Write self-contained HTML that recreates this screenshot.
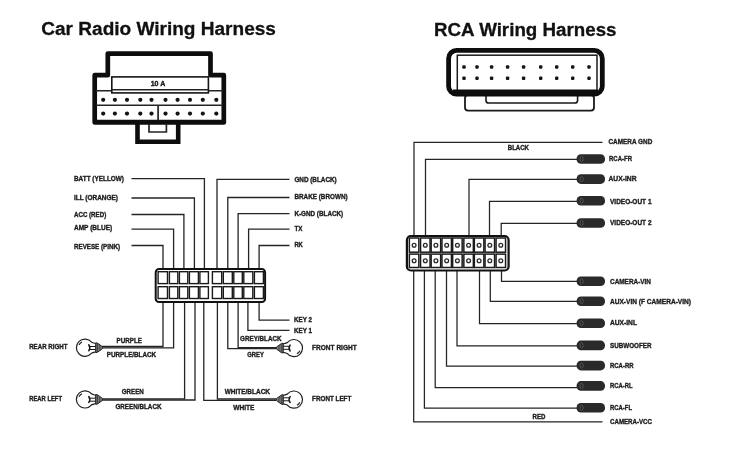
<!DOCTYPE html>
<html lang="en">
<head>
<meta charset="utf-8">
<title>Car Radio Wiring Harness / RCA Wiring Harness</title>
<style>
html,body{margin:0;padding:0;background:#fff;}
body{width:730px;height:450px;overflow:hidden;}
svg{display:block;filter:grayscale(1);}
text{font-family:"Liberation Sans",sans-serif;font-weight:700;fill:#1c1c1c;stroke:#1c1c1c;stroke-width:0.4px;stroke-linejoin:round;}
text.h{fill:#111;stroke:#111;stroke-width:0.3px;}
</style>
</head>
<body>
<svg width="730" height="450" viewBox="0 0 730 450">
<rect x="0" y="0" width="730" height="450" fill="#ffffff"/>

<text class="h" x="41.3" y="35.4" font-size="18.7" textLength="234.6" lengthAdjust="spacingAndGlyphs">Car Radio Wiring Harness</text>
<text class="h" x="434" y="35.7" font-size="18.7" textLength="182.5" lengthAdjust="spacingAndGlyphs">RCA Wiring Harness</text>
<g id="car-connector">
<path d="M137.5 122 V141.8 H178.2 V122" fill="#fff" stroke="#0d0d0d" stroke-width="4.6" stroke-linejoin="miter"/>
<path d="M107.8 75.2 V53.6 H210.5 V75.2 H223.8 V122.5 H94.7 V75.2 Z" fill="#fff" stroke="#0d0d0d" stroke-width="4.7" stroke-linejoin="round"/>
<path d="M94.7 121.4 H223.8" fill="none" stroke="#0d0d0d" stroke-width="3.4"/>
<path d="M96 90.7 H112 M208 90.7 H223" fill="none" stroke="#242424" stroke-width="1.4"/>
<path d="M96 105.2 H223" fill="none" stroke="#242424" stroke-width="1.4"/>
<path d="M158.1 105.2 V120.5" fill="none" stroke="#242424" stroke-width="1.7"/>
<rect x="111.8" y="76.9" width="96.6" height="16" fill="#fff" stroke="#151515" stroke-width="1.6"/>
<path d="M111.8 89.8 H208.4" fill="none" stroke="#242424" stroke-width="1.5"/>
<path d="M149 124 V132 H166.4 V124" fill="none" stroke="#242424" stroke-width="1.7"/>
<text class="l" x="150.7" y="86.1" font-size="7.6" textLength="14.6" lengthAdjust="spacingAndGlyphs">10 A</text>
<circle cx="103.2" cy="99.8" r="2.1" fill="#151515"/>
<circle cx="114.9" cy="99.8" r="2.1" fill="#151515"/>
<circle cx="127" cy="99.8" r="2.1" fill="#151515"/>
<circle cx="140.3" cy="99.8" r="2.1" fill="#151515"/>
<circle cx="151.5" cy="99.8" r="2.1" fill="#151515"/>
<circle cx="165.5" cy="99.8" r="2.1" fill="#151515"/>
<circle cx="177.6" cy="99.8" r="2.1" fill="#151515"/>
<circle cx="190" cy="99.8" r="2.1" fill="#151515"/>
<circle cx="202.8" cy="99.8" r="2.1" fill="#151515"/>
<circle cx="216.3" cy="99.8" r="2.1" fill="#151515"/>
<circle cx="103.2" cy="113.6" r="2.1" fill="#151515"/>
<circle cx="114.9" cy="113.6" r="2.1" fill="#151515"/>
<circle cx="127" cy="113.6" r="2.1" fill="#151515"/>
<circle cx="140.3" cy="113.6" r="2.1" fill="#151515"/>
<circle cx="151.5" cy="113.6" r="2.1" fill="#151515"/>
<circle cx="165.5" cy="113.6" r="2.1" fill="#151515"/>
<circle cx="177.6" cy="113.6" r="2.1" fill="#151515"/>
<circle cx="190" cy="113.6" r="2.1" fill="#151515"/>
<circle cx="202.8" cy="113.6" r="2.1" fill="#151515"/>
<circle cx="216.3" cy="113.6" r="2.1" fill="#151515"/>
</g>
<g id="car-wiring">
<path d="M131.5 245.5 H163.0 V270" fill="none" stroke="#242424" stroke-width="1.3"/>
<path d="M131.5 229.2 H173.6 V270" fill="none" stroke="#242424" stroke-width="1.3"/>
<path d="M131.5 214.5 H183.9 V270" fill="none" stroke="#242424" stroke-width="1.3"/>
<path d="M131.5 198.0 H194.4 V270" fill="none" stroke="#242424" stroke-width="1.3"/>
<path d="M131.5 178.6 H204.4 V270" fill="none" stroke="#242424" stroke-width="1.3"/>
<path d="M289.5 179.3 H217.0 V270" fill="none" stroke="#242424" stroke-width="1.3"/>
<path d="M289.5 197.5 H227.8 V270" fill="none" stroke="#242424" stroke-width="1.3"/>
<path d="M289.5 213.7 H238.1 V270" fill="none" stroke="#242424" stroke-width="1.3"/>
<path d="M289.5 229.2 H248.6 V270" fill="none" stroke="#242424" stroke-width="1.3"/>
<path d="M289.5 245.5 H259.1 V270" fill="none" stroke="#242424" stroke-width="1.3"/>
<path d="M102 346.5 H163.0 V301" fill="none" stroke="#242424" stroke-width="1.3"/>
<path d="M102 347.8 H173.6 V301" fill="none" stroke="#242424" stroke-width="1.3"/>
<path d="M102 398.9 H184.6 V301" fill="none" stroke="#242424" stroke-width="1.3"/>
<path d="M102 400.0 H195.0 V301" fill="none" stroke="#242424" stroke-width="1.3"/>
<path d="M203.8 301 V400.3 H276" fill="none" stroke="#242424" stroke-width="1.3"/>
<path d="M217.4 301 V399.0 H276" fill="none" stroke="#242424" stroke-width="1.3"/>
<path d="M227.8 301 V348.7 H276" fill="none" stroke="#242424" stroke-width="1.3"/>
<path d="M238.1 301 V347.6 H276" fill="none" stroke="#242424" stroke-width="1.3"/>
<path d="M247.9 301 V330.4 H289.5" fill="none" stroke="#242424" stroke-width="1.3"/>
<path d="M259.1 301 V320.2 H289.5" fill="none" stroke="#242424" stroke-width="1.3"/>
<rect x="155.7" y="269" width="109.4" height="33.1" rx="3.4" fill="#fff" stroke="#111" stroke-width="2"/>
<rect x="158.10" y="271.7" width="9.40" height="11.9" fill="#fff" stroke="#1a1a1a" stroke-width="1.4"/>
<rect x="158.10" y="286.7" width="9.40" height="11.8" fill="#fff" stroke="#1a1a1a" stroke-width="1.4"/>
<rect x="169.40" y="271.7" width="8.40" height="11.9" fill="#fff" stroke="#1a1a1a" stroke-width="1.4"/>
<rect x="169.40" y="286.7" width="8.40" height="11.8" fill="#fff" stroke="#1a1a1a" stroke-width="1.4"/>
<rect x="179.40" y="271.7" width="8.40" height="11.9" fill="#fff" stroke="#1a1a1a" stroke-width="1.4"/>
<rect x="179.40" y="286.7" width="8.40" height="11.8" fill="#fff" stroke="#1a1a1a" stroke-width="1.4"/>
<rect x="189.40" y="271.7" width="9.00" height="11.9" fill="#fff" stroke="#1a1a1a" stroke-width="1.4"/>
<rect x="189.40" y="286.7" width="9.00" height="11.8" fill="#fff" stroke="#1a1a1a" stroke-width="1.4"/>
<rect x="199.90" y="271.7" width="8.50" height="11.9" fill="#fff" stroke="#1a1a1a" stroke-width="1.4"/>
<rect x="199.90" y="286.7" width="8.50" height="11.8" fill="#fff" stroke="#1a1a1a" stroke-width="1.4"/>
<rect x="212.40" y="271.7" width="9.30" height="11.9" fill="#fff" stroke="#1a1a1a" stroke-width="1.4"/>
<rect x="212.40" y="286.7" width="9.30" height="11.8" fill="#fff" stroke="#1a1a1a" stroke-width="1.4"/>
<rect x="223.30" y="271.7" width="9.00" height="11.9" fill="#fff" stroke="#1a1a1a" stroke-width="1.4"/>
<rect x="223.30" y="286.7" width="9.00" height="11.8" fill="#fff" stroke="#1a1a1a" stroke-width="1.4"/>
<rect x="233.80" y="271.7" width="8.50" height="11.9" fill="#fff" stroke="#1a1a1a" stroke-width="1.4"/>
<rect x="233.80" y="286.7" width="8.50" height="11.8" fill="#fff" stroke="#1a1a1a" stroke-width="1.4"/>
<rect x="243.80" y="271.7" width="9.00" height="11.9" fill="#fff" stroke="#1a1a1a" stroke-width="1.4"/>
<rect x="243.80" y="286.7" width="9.00" height="11.8" fill="#fff" stroke="#1a1a1a" stroke-width="1.4"/>
<rect x="254.40" y="271.7" width="9.00" height="11.9" fill="#fff" stroke="#1a1a1a" stroke-width="1.4"/>
<rect x="254.40" y="286.7" width="9.00" height="11.8" fill="#fff" stroke="#1a1a1a" stroke-width="1.4"/>
</g>
<g transform="translate(85 347.7) rotate(0)">
<path d="M10.9 -4.2 C9.4 -4.2 8.2 -5 6.6 -5.5 A8.6 8.6 0 1 0 6.6 5.5 C8.2 5 9.4 4.2 10.9 4.2 Z" fill="#fff" stroke="#1e1e1e" stroke-width="1.2" stroke-linejoin="round"/>
<path d="M11 -1.2 H4.6 M11 1.8 H4.6" fill="none" stroke="#1a1a1a" stroke-width="1"/>
<path d="M3.8 -2.9 C5 -1.2 5 1.3 3.8 3" fill="none" stroke="#111" stroke-width="1.5" stroke-linecap="round"/>
<path d="M10.9 -4.9 L12.6 -4.5 L17.4 -1 V1 L12.6 4.5 L10.9 4.9 Z" fill="#8a8a8a" stroke="#222" stroke-width="1" stroke-linejoin="round"/>
<path d="M12.7 -4.2 V4.2 M14.9 -2.6 V2.6" fill="none" stroke="#222" stroke-width="0.8"/>
<path d="M-6 -2.6 A6.4 6.4 0 0 1 -3 -5.6" fill="none" stroke="#222" stroke-width="1.1"/>
</g>
<g transform="translate(85 399.4) rotate(0)">
<path d="M10.9 -4.2 C9.4 -4.2 8.2 -5 6.6 -5.5 A8.6 8.6 0 1 0 6.6 5.5 C8.2 5 9.4 4.2 10.9 4.2 Z" fill="#fff" stroke="#1e1e1e" stroke-width="1.2" stroke-linejoin="round"/>
<path d="M11 -1.2 H4.6 M11 1.8 H4.6" fill="none" stroke="#1a1a1a" stroke-width="1"/>
<path d="M3.8 -2.9 C5 -1.2 5 1.3 3.8 3" fill="none" stroke="#111" stroke-width="1.5" stroke-linecap="round"/>
<path d="M10.9 -4.9 L12.6 -4.5 L17.4 -1 V1 L12.6 4.5 L10.9 4.9 Z" fill="#8a8a8a" stroke="#222" stroke-width="1" stroke-linejoin="round"/>
<path d="M12.7 -4.2 V4.2 M14.9 -2.6 V2.6" fill="none" stroke="#222" stroke-width="0.8"/>
<path d="M-6 -2.6 A6.4 6.4 0 0 1 -3 -5.6" fill="none" stroke="#222" stroke-width="1.1"/>
</g>
<g transform="translate(293.9 348.1) rotate(180)">
<path d="M10.9 -4.2 C9.4 -4.2 8.2 -5 6.6 -5.5 A8.6 8.6 0 1 0 6.6 5.5 C8.2 5 9.4 4.2 10.9 4.2 Z" fill="#fff" stroke="#1e1e1e" stroke-width="1.2" stroke-linejoin="round"/>
<path d="M11 -1.2 H4.6 M11 1.8 H4.6" fill="none" stroke="#1a1a1a" stroke-width="1"/>
<path d="M3.8 -2.9 C5 -1.2 5 1.3 3.8 3" fill="none" stroke="#111" stroke-width="1.5" stroke-linecap="round"/>
<path d="M10.9 -4.9 L12.6 -4.5 L17.4 -1 V1 L12.6 4.5 L10.9 4.9 Z" fill="#8a8a8a" stroke="#222" stroke-width="1" stroke-linejoin="round"/>
<path d="M12.7 -4.2 V4.2 M14.9 -2.6 V2.6" fill="none" stroke="#222" stroke-width="0.8"/>
<path d="M-6 -2.6 A6.4 6.4 0 0 1 -3 -5.6" fill="none" stroke="#222" stroke-width="1.1"/>
</g>
<g transform="translate(293.9 399.6) rotate(180)">
<path d="M10.9 -4.2 C9.4 -4.2 8.2 -5 6.6 -5.5 A8.6 8.6 0 1 0 6.6 5.5 C8.2 5 9.4 4.2 10.9 4.2 Z" fill="#fff" stroke="#1e1e1e" stroke-width="1.2" stroke-linejoin="round"/>
<path d="M11 -1.2 H4.6 M11 1.8 H4.6" fill="none" stroke="#1a1a1a" stroke-width="1"/>
<path d="M3.8 -2.9 C5 -1.2 5 1.3 3.8 3" fill="none" stroke="#111" stroke-width="1.5" stroke-linecap="round"/>
<path d="M10.9 -4.9 L12.6 -4.5 L17.4 -1 V1 L12.6 4.5 L10.9 4.9 Z" fill="#8a8a8a" stroke="#222" stroke-width="1" stroke-linejoin="round"/>
<path d="M12.7 -4.2 V4.2 M14.9 -2.6 V2.6" fill="none" stroke="#222" stroke-width="0.8"/>
<path d="M-6 -2.6 A6.4 6.4 0 0 1 -3 -5.6" fill="none" stroke="#222" stroke-width="1.1"/>
</g>
<g id="car-labels">
<text class="l" x="74.0" y="181.4" font-size="8.0" textLength="50.0" lengthAdjust="spacingAndGlyphs">BATT (YELLOW)</text>
<text class="l" x="74.0" y="200.4" font-size="8.0" textLength="44.0" lengthAdjust="spacingAndGlyphs">ILL (ORANGE)</text>
<text class="l" x="74.0" y="217.1" font-size="8.0" textLength="32.2" lengthAdjust="spacingAndGlyphs">ACC (RED)</text>
<text class="l" x="74.0" y="230.4" font-size="8.0" textLength="38.2" lengthAdjust="spacingAndGlyphs">AMP (BLUE)</text>
<text class="l" x="74.0" y="249.2" font-size="8.0" textLength="46.0" lengthAdjust="spacingAndGlyphs">REVESE (PINK)</text>
<text class="l" x="294.4" y="182.2" font-size="8.0" textLength="42.3" lengthAdjust="spacingAndGlyphs">GND (BLACK)</text>
<text class="l" x="294.4" y="199.4" font-size="8.0" textLength="53.2" lengthAdjust="spacingAndGlyphs">BRAKE (BROWN)</text>
<text class="l" x="294.4" y="216.4" font-size="8.0" textLength="48.8" lengthAdjust="spacingAndGlyphs">K-GND (BLACK)</text>
<text class="l" x="294.4" y="230.6" font-size="8.0" textLength="8.0" lengthAdjust="spacingAndGlyphs">TX</text>
<text class="l" x="294.4" y="247.4" font-size="8.0" textLength="8.4" lengthAdjust="spacingAndGlyphs">RK</text>
<text class="l" x="294.0" y="322.4" font-size="8.0" textLength="18.0" lengthAdjust="spacingAndGlyphs">KEY 2</text>
<text class="l" x="294.0" y="333.0" font-size="8.0" textLength="18.0" lengthAdjust="spacingAndGlyphs">KEY 1</text>
<text class="l" x="29.2" y="349.4" font-size="8.0" textLength="38.2" lengthAdjust="spacingAndGlyphs">REAR RIGHT</text>
<text class="l" x="29.2" y="400.7" font-size="8.0" textLength="32.8" lengthAdjust="spacingAndGlyphs">REAR LEFT</text>
<text class="l" x="116.6" y="343.0" font-size="8.0" textLength="25.4" lengthAdjust="spacingAndGlyphs">PURPLE</text>
<text class="l" x="106.8" y="357.3" font-size="8.0" textLength="49.3" lengthAdjust="spacingAndGlyphs">PURPLE/BLACK</text>
<text class="l" x="121.8" y="393.5" font-size="8.0" textLength="22.0" lengthAdjust="spacingAndGlyphs">GREEN</text>
<text class="l" x="115.4" y="408.6" font-size="8.0" textLength="46.1" lengthAdjust="spacingAndGlyphs">GREEN/BLACK</text>
<text class="l" x="240.1" y="340.8" font-size="8.0" textLength="41.4" lengthAdjust="spacingAndGlyphs">GREY/BLACK</text>
<text class="l" x="247.3" y="356.5" font-size="8.0" textLength="16.6" lengthAdjust="spacingAndGlyphs">GREY</text>
<text class="l" x="224.7" y="394.3" font-size="8.0" textLength="45.3" lengthAdjust="spacingAndGlyphs">WHITE/BLACK</text>
<text class="l" x="233.2" y="409.5" font-size="8.0" textLength="21.3" lengthAdjust="spacingAndGlyphs">WHITE</text>
<text class="l" x="312.1" y="350.3" font-size="8.0" textLength="44.6" lengthAdjust="spacingAndGlyphs">FRONT RIGHT</text>
<text class="l" x="312.1" y="400.6" font-size="8.0" textLength="39.2" lengthAdjust="spacingAndGlyphs">FRONT LEFT</text>
</g>
<g id="rca-connector">
<rect x="465" y="95" width="129" height="15.6" rx="3" fill="#fff" stroke="#1a1a1a" stroke-width="1.8"/>
<path d="M486 95 V100.4 Q486 103 488.8 103 H574.8 Q577.6 103 577.6 100.4 V95" fill="#fff" stroke="#1a1a1a" stroke-width="1.6"/>
<rect x="448.6" y="50.4" width="153.7" height="43.8" rx="8" fill="#fff" stroke="#0d0d0d" stroke-width="4.8"/>
<rect x="457.3" y="55.2" width="139.7" height="36" fill="#fff" stroke="#1a1a1a" stroke-width="1.5"/>
<path d="M453 92.6 H598" fill="none" stroke="#0d0d0d" stroke-width="6.4"/>
<rect x="462.3" y="65.3" width="3.4" height="3.4" rx="1" fill="#151515"/>
<rect x="475.3" y="65.3" width="3.4" height="3.4" rx="1" fill="#151515"/>
<rect x="489.9" y="65.3" width="3.4" height="3.4" rx="1" fill="#151515"/>
<rect x="505.9" y="65.3" width="3.4" height="3.4" rx="1" fill="#151515"/>
<rect x="521.9" y="65.3" width="3.4" height="3.4" rx="1" fill="#151515"/>
<rect x="539.0" y="65.3" width="3.4" height="3.4" rx="1" fill="#151515"/>
<rect x="555.0" y="65.3" width="3.4" height="3.4" rx="1" fill="#151515"/>
<rect x="571.0" y="65.3" width="3.4" height="3.4" rx="1" fill="#151515"/>
<rect x="587.3" y="65.3" width="3.4" height="3.4" rx="1" fill="#151515"/>
<rect x="462.3" y="76.5" width="3.4" height="3.4" rx="1" fill="#151515"/>
<rect x="475.3" y="76.5" width="3.4" height="3.4" rx="1" fill="#151515"/>
<rect x="489.9" y="76.5" width="3.4" height="3.4" rx="1" fill="#151515"/>
<rect x="505.9" y="76.5" width="3.4" height="3.4" rx="1" fill="#151515"/>
<rect x="521.9" y="76.5" width="3.4" height="3.4" rx="1" fill="#151515"/>
<rect x="539.0" y="76.5" width="3.4" height="3.4" rx="1" fill="#151515"/>
<rect x="555.0" y="76.5" width="3.4" height="3.4" rx="1" fill="#151515"/>
<rect x="571.0" y="76.5" width="3.4" height="3.4" rx="1" fill="#151515"/>
<rect x="587.3" y="76.5" width="3.4" height="3.4" rx="1" fill="#151515"/>
</g>
<g id="rca-wiring">
<path d="M602.5 142.35 H414.0 V236" fill="none" stroke="#242424" stroke-width="1.25"/>
<path d="M578 159.4 H425.5 V236" fill="none" stroke="#242424" stroke-width="1.25"/>
<path d="M578 179.4 H469.0 V236" fill="none" stroke="#242424" stroke-width="1.25"/>
<path d="M578 201.3 H489.5 V236" fill="none" stroke="#242424" stroke-width="1.25"/>
<path d="M578 223.45 H501.2 V236" fill="none" stroke="#242424" stroke-width="1.25"/>
<path d="M501.5 270 V281.4 H578" fill="none" stroke="#242424" stroke-width="1.25"/>
<path d="M490.3 270 V301.3 H578" fill="none" stroke="#242424" stroke-width="1.25"/>
<path d="M479.5 270 V323.5 H578" fill="none" stroke="#242424" stroke-width="1.25"/>
<path d="M457.0 270 V345.8 H578" fill="none" stroke="#242424" stroke-width="1.25"/>
<path d="M446.5 270 V366.0 H578" fill="none" stroke="#242424" stroke-width="1.25"/>
<path d="M435.2 270 V387.5 H578" fill="none" stroke="#242424" stroke-width="1.25"/>
<path d="M424.4 270 V408.0 H578" fill="none" stroke="#242424" stroke-width="1.25"/>
<path d="M413.7 270 V421.8 H602.5" fill="none" stroke="#242424" stroke-width="1.25"/>
<rect x="406.9" y="236" width="101.7" height="34.5" rx="4" fill="#fff" stroke="#111" stroke-width="2.2"/>
<rect x="409.35" y="238.0" width="9.5" height="14.2" fill="#fff" stroke="#1a1a1a" stroke-width="1.5"/>
<circle cx="414.1" cy="245.2" r="1.9" fill="#fff" stroke="#2a2a2a" stroke-width="1.3"/>
<rect x="409.35" y="254.1" width="9.5" height="13.4" fill="#fff" stroke="#1a1a1a" stroke-width="1.5"/>
<circle cx="414.1" cy="260.8" r="1.9" fill="#fff" stroke="#2a2a2a" stroke-width="1.3"/>
<rect x="420.55" y="238.0" width="9.5" height="14.2" fill="#fff" stroke="#1a1a1a" stroke-width="1.5"/>
<circle cx="425.3" cy="245.2" r="1.9" fill="#fff" stroke="#2a2a2a" stroke-width="1.3"/>
<rect x="420.55" y="254.1" width="9.5" height="13.4" fill="#fff" stroke="#1a1a1a" stroke-width="1.5"/>
<circle cx="425.3" cy="260.8" r="1.9" fill="#fff" stroke="#2a2a2a" stroke-width="1.3"/>
<rect x="431.15" y="238.0" width="9.5" height="14.2" fill="#fff" stroke="#1a1a1a" stroke-width="1.5"/>
<circle cx="435.9" cy="245.2" r="1.9" fill="#fff" stroke="#2a2a2a" stroke-width="1.3"/>
<rect x="431.15" y="254.1" width="9.5" height="13.4" fill="#fff" stroke="#1a1a1a" stroke-width="1.5"/>
<circle cx="435.9" cy="260.8" r="1.9" fill="#fff" stroke="#2a2a2a" stroke-width="1.3"/>
<rect x="441.95" y="238.0" width="9.5" height="14.2" fill="#fff" stroke="#1a1a1a" stroke-width="1.5"/>
<circle cx="446.7" cy="245.2" r="1.9" fill="#fff" stroke="#2a2a2a" stroke-width="1.3"/>
<rect x="441.95" y="254.1" width="9.5" height="13.4" fill="#fff" stroke="#1a1a1a" stroke-width="1.5"/>
<circle cx="446.7" cy="260.8" r="1.9" fill="#fff" stroke="#2a2a2a" stroke-width="1.3"/>
<rect x="452.65" y="238.0" width="9.5" height="14.2" fill="#fff" stroke="#1a1a1a" stroke-width="1.5"/>
<circle cx="457.4" cy="245.2" r="1.9" fill="#fff" stroke="#2a2a2a" stroke-width="1.3"/>
<rect x="452.65" y="254.1" width="9.5" height="13.4" fill="#fff" stroke="#1a1a1a" stroke-width="1.5"/>
<circle cx="457.4" cy="260.8" r="1.9" fill="#fff" stroke="#2a2a2a" stroke-width="1.3"/>
<rect x="463.85" y="238.0" width="9.5" height="14.2" fill="#fff" stroke="#1a1a1a" stroke-width="1.5"/>
<circle cx="468.6" cy="245.2" r="1.9" fill="#fff" stroke="#2a2a2a" stroke-width="1.3"/>
<rect x="463.85" y="254.1" width="9.5" height="13.4" fill="#fff" stroke="#1a1a1a" stroke-width="1.5"/>
<circle cx="468.6" cy="260.8" r="1.9" fill="#fff" stroke="#2a2a2a" stroke-width="1.3"/>
<rect x="474.35" y="238.0" width="9.5" height="14.2" fill="#fff" stroke="#1a1a1a" stroke-width="1.5"/>
<circle cx="479.1" cy="245.2" r="1.9" fill="#fff" stroke="#2a2a2a" stroke-width="1.3"/>
<rect x="474.35" y="254.1" width="9.5" height="13.4" fill="#fff" stroke="#1a1a1a" stroke-width="1.5"/>
<circle cx="479.1" cy="260.8" r="1.9" fill="#fff" stroke="#2a2a2a" stroke-width="1.3"/>
<rect x="485.05" y="238.0" width="9.5" height="14.2" fill="#fff" stroke="#1a1a1a" stroke-width="1.5"/>
<circle cx="489.8" cy="245.2" r="1.9" fill="#fff" stroke="#2a2a2a" stroke-width="1.3"/>
<rect x="485.05" y="254.1" width="9.5" height="13.4" fill="#fff" stroke="#1a1a1a" stroke-width="1.5"/>
<circle cx="489.8" cy="260.8" r="1.9" fill="#fff" stroke="#2a2a2a" stroke-width="1.3"/>
<rect x="496.05" y="238.0" width="9.5" height="14.2" fill="#fff" stroke="#1a1a1a" stroke-width="1.5"/>
<circle cx="500.8" cy="245.2" r="1.9" fill="#fff" stroke="#2a2a2a" stroke-width="1.3"/>
<rect x="496.05" y="254.1" width="9.5" height="13.4" fill="#fff" stroke="#1a1a1a" stroke-width="1.5"/>
<circle cx="500.8" cy="260.8" r="1.9" fill="#fff" stroke="#2a2a2a" stroke-width="1.3"/>
<rect x="576.6" y="154.2" width="28.4" height="9.6" rx="4.4" fill="#2a2a2a"/>
<ellipse cx="581.6" cy="159.0" rx="1.6" ry="2.6" fill="none" stroke="#5a5a5a" stroke-width="0.8"/>
<rect x="576.6" y="174.3" width="28.4" height="9.6" rx="4.4" fill="#2a2a2a"/>
<ellipse cx="581.6" cy="179.1" rx="1.6" ry="2.6" fill="none" stroke="#5a5a5a" stroke-width="0.8"/>
<rect x="576.6" y="196.0" width="28.4" height="9.6" rx="4.4" fill="#2a2a2a"/>
<ellipse cx="581.6" cy="200.8" rx="1.6" ry="2.6" fill="none" stroke="#5a5a5a" stroke-width="0.8"/>
<rect x="576.6" y="218.2" width="28.4" height="9.6" rx="4.4" fill="#2a2a2a"/>
<ellipse cx="581.6" cy="223.0" rx="1.6" ry="2.6" fill="none" stroke="#5a5a5a" stroke-width="0.8"/>
<rect x="576.6" y="276.4" width="28.4" height="9.6" rx="4.4" fill="#2a2a2a"/>
<ellipse cx="581.6" cy="281.2" rx="1.6" ry="2.6" fill="none" stroke="#5a5a5a" stroke-width="0.8"/>
<rect x="576.6" y="296.4" width="28.4" height="9.6" rx="4.4" fill="#2a2a2a"/>
<ellipse cx="581.6" cy="301.2" rx="1.6" ry="2.6" fill="none" stroke="#5a5a5a" stroke-width="0.8"/>
<rect x="576.6" y="318.4" width="28.4" height="9.6" rx="4.4" fill="#2a2a2a"/>
<ellipse cx="581.6" cy="323.2" rx="1.6" ry="2.6" fill="none" stroke="#5a5a5a" stroke-width="0.8"/>
<rect x="576.6" y="340.6" width="28.4" height="9.6" rx="4.4" fill="#2a2a2a"/>
<ellipse cx="581.6" cy="345.4" rx="1.6" ry="2.6" fill="none" stroke="#5a5a5a" stroke-width="0.8"/>
<rect x="576.6" y="360.8" width="28.4" height="9.6" rx="4.4" fill="#2a2a2a"/>
<ellipse cx="581.6" cy="365.6" rx="1.6" ry="2.6" fill="none" stroke="#5a5a5a" stroke-width="0.8"/>
<rect x="576.6" y="381.1" width="28.4" height="9.6" rx="4.4" fill="#2a2a2a"/>
<ellipse cx="581.6" cy="385.9" rx="1.6" ry="2.6" fill="none" stroke="#5a5a5a" stroke-width="0.8"/>
<rect x="576.6" y="403.0" width="28.4" height="9.6" rx="4.4" fill="#2a2a2a"/>
<ellipse cx="581.6" cy="407.8" rx="1.6" ry="2.6" fill="none" stroke="#5a5a5a" stroke-width="0.8"/>
</g>
<g id="rca-labels">
<text class="l" x="608.5" y="144.2" font-size="8.0" textLength="43.8" lengthAdjust="spacingAndGlyphs">CAMERA GND</text>
<text class="l" x="609.0" y="161.0" font-size="8.0" textLength="23.0" lengthAdjust="spacingAndGlyphs">RCA-FR</text>
<text class="l" x="608.5" y="181.4" font-size="8.0" textLength="28.0" lengthAdjust="spacingAndGlyphs">AUX-INR</text>
<text class="l" x="610.0" y="204.2" font-size="8.0" textLength="41.5" lengthAdjust="spacingAndGlyphs">VIDEO-OUT 1</text>
<text class="l" x="610.0" y="225.0" font-size="8.0" textLength="41.5" lengthAdjust="spacingAndGlyphs">VIDEO-OUT 2</text>
<text class="l" x="610.0" y="284.0" font-size="8.0" textLength="41.0" lengthAdjust="spacingAndGlyphs">CAMERA-VIN</text>
<text class="l" x="610.0" y="303.8" font-size="8.0" textLength="81.0" lengthAdjust="spacingAndGlyphs">AUX-VIN (F CAMERA-VIN)</text>
<text class="l" x="610.0" y="325.4" font-size="8.0" textLength="27.0" lengthAdjust="spacingAndGlyphs">AUX-INL</text>
<text class="l" x="610.0" y="348.2" font-size="8.0" textLength="41.5" lengthAdjust="spacingAndGlyphs">SUBWOOFER</text>
<text class="l" x="610.0" y="368.0" font-size="8.0" textLength="23.5" lengthAdjust="spacingAndGlyphs">RCA-RR</text>
<text class="l" x="610.0" y="387.8" font-size="8.0" textLength="22.5" lengthAdjust="spacingAndGlyphs">RCA-RL</text>
<text class="l" x="610.0" y="410.2" font-size="8.0" textLength="22.0" lengthAdjust="spacingAndGlyphs">RCA-FL</text>
<text class="l" x="610.0" y="424.2" font-size="8.0" textLength="42.0" lengthAdjust="spacingAndGlyphs">CAMERA-VCC</text>
<text class="l" x="507.8" y="150.1" font-size="7.2" textLength="21.2" lengthAdjust="spacingAndGlyphs">BLACK</text>
<text class="l" x="532.6" y="419.1" font-size="7.2" textLength="12.8" lengthAdjust="spacingAndGlyphs">RED</text>
</g>
</svg>
</body>
</html>
